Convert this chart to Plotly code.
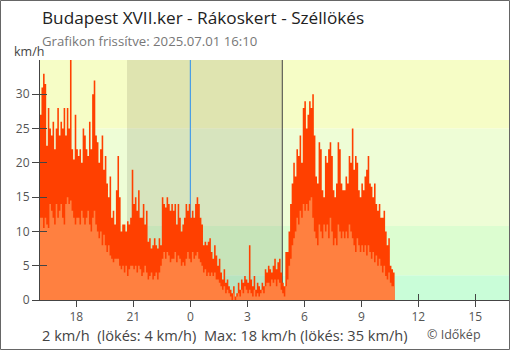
import plotly.graph_objects as go

# ---------------- data ----------------
title = "Budapest XVII.ker - Rákoskert - Széllökés"
subtitle = "Grafikon frissítve: 2025.07.01 16:10"
unit_label = "km/h"
footer = "2 km/h\u00a0\u00a0(lökés: 4 km/h)\u00a0\u00a0Max: 18 km/h (lökés: 35 km/h)"
credit = "© Időkép"

# time in hours relative to midnight of 2025-07-01; first sample 16:05 on 06-30
start_hour = -(7 + 55 / 60)
step_hours = 5 / 60

gust = [
    27, 31, 33, 31.5, 22.5, 28, 25, 24, 26, 22, 25, 28,
    24, 26, 25, 28, 24, 28, 25, 35, 22, 20.5, 27, 22,
    21, 22, 20, 25, 24, 22, 21, 26, 22, 30, 32, 24,
    23, 20, 22, 24, 19, 21, 17, 15, 18, 12, 13, 11,
    16, 21, 15, 10, 11, 11, 10, 11.5, 11, 12, 19, 14,
    15, 13, 16, 12, 12, 14, 11, 13, 8.5, 9, 7.5, 8,
    9, 8, 7.5, 9, 8, 15, 14, 13.5, 15, 14, 13, 14,
    13, 14, 11, 14, 12, 10, 11, 12, 14, 13, 14, 12,
    13, 12, 14, 15, 14, 12, 11, 8, 8.5, 8, 8.5, 9,
    7, 6, 8, 6.5, 5, 6, 4, 3, 4.5, 2.5, 3, 2,
    1.5, 1, 2, 0.5, 1, 2.5, 1.5, 3, 2.5, 3.5, 3, 2.5,
    8, 3, 2, 3.5, 1.5, 2.5, 2, 1.5, 2.5, 2, 4.5, 4,
    5, 4.5, 4, 5, 6, 4.5, 5.5, 6, 4, 2.5, 2, 7,
    7, 10, 14, 17, 20, 18, 22, 21, 24, 20, 28, 29,
    25, 27, 29, 28, 30, 24, 18, 17, 23, 22, 16, 15,
    21, 20, 22, 23, 21, 16, 15, 17, 23, 22, 17, 16,
    16, 18, 17, 21, 20, 25, 19, 21, 20, 16, 15, 17,
    16, 18, 19, 21, 17, 16.5, 15, 17, 14, 13, 14, 12,
    12, 13, 10, 8, 9, 5, 4.5, 4,
]
avg = [
    12, 12, 10.5, 12, 11, 10.5, 14, 13, 12, 11, 14, 12,
    13, 14, 12, 11, 14, 15, 14, 14.5, 13, 12, 11, 12,
    12, 11, 13, 12, 11, 12, 13, 11, 10, 12, 13, 11,
    10, 9, 10, 8, 9.5, 8, 7, 8, 6.5, 6, 5.5, 6,
    6, 6, 5, 4.5, 5, 4, 5, 3.5, 4.5, 5, 5, 4.5,
    5, 4, 5, 4.5, 3.5, 4, 5, 4, 3, 3.5, 4, 3,
    3.5, 4, 3, 4, 5, 6, 7, 6, 7, 6.5, 5.5, 6,
    6, 7, 5.5, 6.5, 6, 5, 5.5, 5, 6, 7, 6, 5.5,
    7, 6, 6.5, 7, 6, 5.5, 5, 4, 4.5, 3.5, 4, 3.5,
    4, 3.5, 4, 3, 3, 2.5, 2, 1.5, 2, 1, 1.5, 1,
    0.5, 0, 1, 0, 0.5, 1, 0.5, 1.5, 1, 2, 1.5, 1,
    1.5, 1, 0.5, 1.5, 0.5, 1, 0.5, 1, 1.5, 1, 2, 2.5,
    2.5, 2, 3, 2.5, 3, 2, 3, 2.5, 1.5, 1, 0.5, 2,
    3, 5, 6, 8, 9, 10, 12, 11, 13, 12, 14, 13,
    14, 13, 14.5, 15, 12, 10, 9, 8, 11, 10, 9, 11,
    10, 11, 9, 12, 10, 8, 9, 8, 11, 10, 9, 10,
    9, 10, 9, 11, 10, 9, 8, 7, 9, 8, 7, 8,
    7, 8, 6.5, 8, 7, 6, 7, 5.5, 6.5, 5, 6, 5,
    4, 5, 3.5, 3, 4, 2.5, 2, 2,
]

x_tick_vals = [-6, -3, 0, 3, 6, 9, 12, 15]
x_tick_text = ["18", "21", "0", "3", "6", "9", "12", "15"]
y_tick_vals = [0, 5, 10, 15, 20, 25, 30]
x_range = [-7.91, 16.77]
y_range = [0, 35]

band_edges = [0, 3.6, 10.8, 25, 35]
band_colors = ["#c9fdd8", "#dcfdd0", "#eefdd6", "#f6fdc6"]
night_start, night_end = -3.33, 4.84
midnight = 0

gust_color = "#ff4000"
avg_color = "#ff8040"

# ---------------- figure ----------------
W, H = 510, 350
ML, MR, MT, MB = 40, 1, 60, 50
PW, PH = W - ML - MR, H - MT - MB


def px_x(px):
    return (px - ML) / PW


def px_y(py):
    return (MT + PH - py) / PH


times = [start_hour + i * step_hours for i in range(len(gust))]
times_step = times + [times[-1] + step_hours]
gust_step = gust + [gust[-1]]
avg_step = avg + [avg[-1]]

fig = go.Figure()
fig.add_trace(go.Scatter(
    x=times_step, y=gust_step, mode="lines", line=dict(width=0, shape="hv"),
    fill="tozeroy", fillcolor=gust_color, hoverinfo="skip", showlegend=False))
fig.add_trace(go.Scatter(
    x=times_step, y=avg_step, mode="lines", line=dict(width=0, shape="hv"),
    fill="tozeroy", fillcolor=avg_color, hoverinfo="skip", showlegend=False))

shapes = []
for lo, hi, col in zip(band_edges[:-1], band_edges[1:], band_colors):
    shapes.append(dict(type="rect", xref="paper", yref="y", x0=0, x1=1, y0=lo, y1=hi,
                       fillcolor=col, line=dict(width=0), layer="below"))
shapes.append(dict(type="rect", xref="x", yref="paper", x0=night_start, x1=night_end,
                   y0=0, y1=1, fillcolor="rgba(40,30,0,0.11)", line=dict(width=0), layer="below"))
shapes.append(dict(type="line", xref="x", yref="paper", x0=midnight, x1=midnight,
                   y0=0, y1=1, line=dict(color="#2a8ff0", width=1), layer="below"))
shapes.append(dict(type="line", xref="x", yref="paper", x0=night_end, x1=night_end,
                   y0=0, y1=1, line=dict(color="#444444", width=1), layer="below"))
# outer frame
shapes.append(dict(type="rect", xref="paper", yref="paper",
                   x0=px_x(0.5), x1=px_x(W - 0.5), y0=px_y(H - 0.5), y1=px_y(0.5),
                   line=dict(color="#666666", width=1), fillcolor="rgba(0,0,0,0)"))

font_family = "Open Sans, Noto Sans, DejaVu Sans, sans-serif"
annotations = [
    dict(text=title, xref="paper", yref="paper", x=px_x(40), y=px_y(18),
         xanchor="left", yanchor="middle", showarrow=False,
         font=dict(size=17.2, color="#222222", family=font_family)),
    dict(text=subtitle, xref="paper", yref="paper", x=px_x(40), y=px_y(41),
         xanchor="left", yanchor="middle", showarrow=False,
         font=dict(size=13.2, color="#777777", family=font_family)),
    dict(text=unit_label, xref="paper", yref="paper", x=px_x(12), y=px_y(52),
         xanchor="left", yanchor="middle", showarrow=False,
         font=dict(size=12.5, color="#444444", family=font_family)),
    dict(text=footer, xref="paper", yref="paper", x=px_x(40), y=px_y(334.5),
         xanchor="left", yanchor="middle", showarrow=False,
         font=dict(size=14.6, color="#444444", family=font_family)),
    dict(text=credit, xref="paper", yref="paper", x=px_x(425), y=px_y(334),
         xanchor="left", yanchor="middle", showarrow=False,
         font=dict(size=12.5, color="#555555", family=font_family)),
]

axis_color = "#444444"
fig.update_layout(
    width=W, height=H,
    margin=dict(l=ML, r=MR, t=MT, b=MB, pad=0),
    paper_bgcolor="white", plot_bgcolor="white",
    showlegend=False,
    shapes=shapes, annotations=annotations,
    font=dict(family=font_family, color="#555555", size=12),
    xaxis=dict(range=x_range, tickmode="array", tickvals=x_tick_vals, ticktext=x_tick_text,
               ticks="outside", ticklen=6, tickcolor=axis_color, tickwidth=1,
               showline=True, linecolor=axis_color, linewidth=1, showgrid=False,
               zeroline=False, fixedrange=True, tickfont=dict(size=12, color="#555555")),
    yaxis=dict(range=y_range, tickmode="array", tickvals=y_tick_vals,
               ticks="outside", ticklen=7, tickcolor=axis_color, tickwidth=1,
               showline=True, linecolor=axis_color, linewidth=1, showgrid=False,
               zeroline=False, fixedrange=True, tickfont=dict(size=12, color="#555555")),
    xaxis2=dict(range=x_range, overlaying="x", tickmode="array", tickvals=x_tick_vals,
                ticks="inside", ticklen=6, tickcolor=axis_color, showticklabels=False,
                showgrid=False, zeroline=False, showline=False, layer="below traces",
                fixedrange=True),
    yaxis2=dict(range=y_range, overlaying="y", tickmode="array", tickvals=y_tick_vals,
                ticks="inside", ticklen=7, tickcolor=axis_color, showticklabels=False,
                showgrid=False, zeroline=False, showline=False, fixedrange=True),
)
# invisible trace binding the overlay axes
fig.add_trace(go.Scatter(x=[x_range[0]], y=[y_range[0]], xaxis="x2", yaxis="y2",
                         mode="markers", marker=dict(opacity=0), hoverinfo="skip",
                         showlegend=False))

fig.write_html("out.html")
